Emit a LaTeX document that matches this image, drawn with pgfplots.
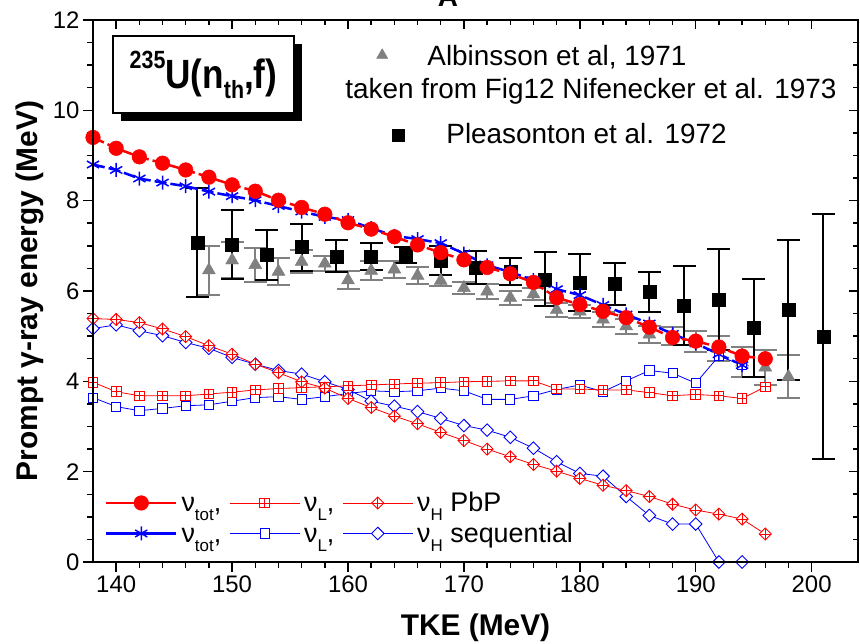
\documentclass[border=0pt]{standalone}
\usepackage{fontspec}
\setmainfont{Liberation Sans}
\usepackage{graphicx}
\usepackage{pgfplots}
\usepackage{pgfplotstable}
\pgfplotsset{compat=1.18}
\usetikzlibrary{plotmarks,shadows}
\definecolor{mygray}{RGB}{128,128,128}
\definecolor{myred}{RGB}{255,0,0}
\definecolor{myblue}{RGB}{0,0,255}

\pgfdeclareplotmark{dplus}{%
 \pgfpathmoveto{\pgfqpoint{0pt}{\pgfplotmarksize}}%
 \pgfpathlineto{\pgfqpoint{\pgfplotmarksize}{0pt}}%
 \pgfpathlineto{\pgfqpoint{0pt}{-\pgfplotmarksize}}%
 \pgfpathlineto{\pgfqpoint{-\pgfplotmarksize}{0pt}}%
 \pgfpathclose
 \pgfusepathqfillstroke
 \pgfpathmoveto{\pgfqpoint{0pt}{\pgfplotmarksize}}%
 \pgfpathlineto{\pgfqpoint{0pt}{-\pgfplotmarksize}}%
 \pgfpathmoveto{\pgfqpoint{\pgfplotmarksize}{0pt}}%
 \pgfpathlineto{\pgfqpoint{-\pgfplotmarksize}{0pt}}%
 \pgfusepathqstroke}
\pgfdeclareplotmark{dopen}{%
 \pgfpathmoveto{\pgfqpoint{0pt}{\pgfplotmarksize}}%
 \pgfpathlineto{\pgfqpoint{\pgfplotmarksize}{0pt}}%
 \pgfpathlineto{\pgfqpoint{0pt}{-\pgfplotmarksize}}%
 \pgfpathlineto{\pgfqpoint{-\pgfplotmarksize}{0pt}}%
 \pgfpathclose
 \pgfusepathqfillstroke}
\pgfdeclareplotmark{sqplus}{%
 \pgfpathrectangle{\pgfqpoint{-\pgfplotmarksize}{-\pgfplotmarksize}}{\pgfqpoint{2\pgfplotmarksize}{2\pgfplotmarksize}}%
 \pgfusepathqfillstroke
 \pgfpathmoveto{\pgfqpoint{0pt}{\pgfplotmarksize}}%
 \pgfpathlineto{\pgfqpoint{0pt}{-\pgfplotmarksize}}%
 \pgfpathmoveto{\pgfqpoint{\pgfplotmarksize}{0pt}}%
 \pgfpathlineto{\pgfqpoint{-\pgfplotmarksize}{0pt}}%
 \pgfusepathqstroke}

\pgfplotsset{
 redtot/.style={color=myred, line width=2.5bp, dash pattern=on 12bp off 4bp, mark=*, mark size=7.3bp, mark options={solid, fill=myred, line width=0.5bp}},
 bluetot/.style={color=myblue, line width=2.5bp, dash pattern=on 12bp off 4bp, mark=asterisk, mark size=7bp, mark options={solid, line width=1.5bp}},
 redL/.style={color=myred, line width=0.8bp, mark=sqplus, mark size=4.8bp, mark options={solid, fill=white, line width=0.9bp}},
 redH/.style={color=myred, line width=0.8bp, mark=dplus, mark size=6bp, mark options={solid, fill=white, line width=0.9bp}},
 blueL/.style={color=myblue, line width=0.8bp, mark=square*, mark size=4.6bp, mark options={solid, fill=white, line width=0.9bp}},
 blueH/.style={color=myblue, line width=0.8bp, mark=dopen, mark size=6.3bp, mark options={solid, fill=white, line width=0.9bp}},
}

\newcommand\lstrut{\rule[-9bp]{0pt}{29bp}}
\newcommand\sub[1]{\raisebox{-9bp}{\fontsize{17}{17}\selectfont #1}}

\pgfplotstableread{
x y
138 9.40
140 9.16
142 8.97
144 8.83
146 8.68
148 8.52
150 8.35
152 8.21
154 8.01
156 7.85
158 7.70
160 7.51
162 7.37
164 7.20
166 7.02
168 6.85
170 6.69
172 6.52
174 6.38
176 6.19
178 5.85
180 5.70
182 5.55
184 5.41
186 5.20
188 4.97
190 4.89
192 4.76
194 4.56
196 4.50
}\redtot

\pgfplotstableread{
x y
138 8.80
140 8.68
142 8.49
144 8.40
146 8.32
148 8.20
150 8.10
152 8.01
154 7.88
156 7.76
158 7.64
160 7.57
162 7.39
164 7.22
166 7.15
168 7.06
170 6.83
172 6.57
174 6.42
176 6.24
178 6.04
180 5.91
182 5.69
184 5.48
186 5.28
188 5.05
190 4.84
192 4.60
194 4.36
}\bluetot

\pgfplotstableread{
x y
138 3.98
140 3.77
142 3.68
144 3.68
146 3.68
148 3.72
150 3.76
152 3.81
154 3.84
156 3.86
158 3.88
160 3.90
162 3.92
164 3.94
166 3.96
168 3.97
170 3.99
172 4.00
174 4.01
176 4.01
178 3.83
180 3.83
182 3.81
184 3.81
186 3.75
188 3.68
190 3.71
192 3.68
194 3.62
196 3.88
}\redL

\pgfplotstableread{
x y
138 5.39
140 5.37
142 5.30
144 5.16
146 4.99
148 4.79
150 4.60
152 4.38
154 4.19
156 3.99
158 3.85
160 3.62
162 3.42
164 3.23
166 3.06
168 2.87
170 2.69
172 2.50
174 2.33
176 2.16
178 2.01
180 1.85
182 1.70
184 1.58
186 1.45
188 1.28
190 1.15
192 1.06
194 0.95
196 0.62
}\redH

\pgfplotstableread{
x y
138 3.64
140 3.44
142 3.35
144 3.40
146 3.46
148 3.48
150 3.56
152 3.64
154 3.66
156 3.60
158 3.66
160 3.73
162 3.79
164 3.77
166 3.79
168 3.85
170 3.79
172 3.60
174 3.60
176 3.68
178 3.82
180 3.92
182 3.77
184 4.01
186 4.24
188 4.18
190 3.96
192 4.56
194 4.36
}\blueL

\pgfplotstableread{
x y
138 5.17
140 5.25
142 5.12
144 5.01
146 4.86
148 4.73
150 4.53
152 4.38
154 4.24
156 4.16
158 3.99
160 3.82
162 3.56
164 3.45
166 3.33
168 3.18
170 3.02
172 2.92
174 2.76
176 2.52
178 2.22
180 1.96
182 1.90
184 1.45
186 1.03
188 0.84
190 0.84
192 0.00
194 0.00
}\blueH

\pgfplotstableread{
x y e
148 6.46 0.54
150 6.68 0.40
152 6.58 0.38
154 6.43 0.30
156 6.65 0.25
158 6.61 0.17
160 6.24 0.20
162 6.45 0.21
164 6.48 0.19
166 6.34 0.19
168 6.23 0.13
170 6.07 0.14
172 5.99 0.16
174 5.85 0.16
176 5.93 0.13
178 5.58 0.16
180 5.55 0.14
182 5.37 0.16
184 5.22 0.17
186 5.04 0.19
188 5.01 0.20
190 4.88 0.24
192 4.72 0.28
194 4.42 0.33
196 4.31 0.39
198 4.10 0.48
}\albinsson

\pgfplotstableread{
x y e
147 7.07 1.20
150 7.03 0.76
153 6.80 0.56
156 6.97 0.52
159 6.77 0.36
162 6.76 0.30
165 6.80 0.18
168 6.67 0.32
171 6.52 0.37
174 6.43 0.30
177 6.26 0.60
180 6.19 0.64
183 6.16 0.47
186 5.98 0.44
189 5.68 0.88
192 5.81 1.12
195 5.18 1.08
198 5.58 1.55
201 4.99 2.71
}\pleasonton

\begin{document}
\begin{tikzpicture}
\begin{axis}[
  width=765bp, height=542bp, scale only axis,
  xmin=138, xmax=204, ymin=0, ymax=12,
  clip=false,
  xtick={140,150,...,200}, minor x tick num=4,
  ytick={0,2,...,12}, minor y tick num=3,
  xtick pos=left, ytick pos=left,
  tick align=outside,
  major tick length=10bp, minor tick length=6bp,
  tick style={line width=1.5bp, black},
  axis line style={line width=2bp},
  ticklabel style={font=\fontsize{24}{24}\selectfont},
  /pgf/number format/assume math mode=true,
  xlabel={TKE (MeV)}, ylabel={Prompt γ-ray energy (MeV)},
  label style={font=\bfseries\fontsize{30}{30}\selectfont},
  xlabel style={at={(axis description cs:0.5,-0.136)}, anchor=base},
  ylabel style={at={(axis description cs:-0.0732,0.5)}, anchor=base},
  legend columns=3,
  legend cell align=left,
  legend style={at={(0.0157,0.1292)}, anchor=north west, draw=none, fill=none,
    inner sep=0pt, outer sep=0pt, row sep=9bp, font=\fontsize{27}{27}\selectfont,
    cells={anchor=base west}, nodes={inner sep=0pt, outer sep=0pt},
    /tikz/every odd column/.append style={column sep=4bp},
    /tikz/every even column/.append style={column sep=8bp}},
  legend image code/.code={\draw[mark repeat=2, mark phase=2, #1, solid] plot coordinates {(0bp,9bp) (35bp,9bp) (70bp,9bp)};},
]
\addplot[forget plot, only marks, mark=triangle*, mark size=7.5bp, color=mygray,
  error bars/.cd, y dir=both, y explicit,
  error bar style={line width=2bp, mygray},
  error mark options={rotate=90, mark size=11.5bp, line width=2bp, mygray}]
  table[x=x, y=y, y error=e] {\albinsson};
\addplot[forget plot, only marks, mark=square*, mark size=6.5bp, color=black,
  error bars/.cd, y dir=both, y explicit,
  error bar style={line width=2bp, black},
  error mark options={rotate=90, mark size=11.5bp, line width=2bp, black}]
  table[x=x, y=y, y error=e] {\pleasonton};
\addplot[forget plot, blueL] table[x=x, y=y] {\blueL};
\addplot[forget plot, blueH] table[x=x, y=y] {\blueH};
\addplot[forget plot, redL] table[x=x, y=y] {\redL};
\addplot[forget plot, redH] table[x=x, y=y] {\redH};
\addplot[forget plot, bluetot] table[x=x, y=y] {\bluetot};
\addplot[forget plot, redtot] table[x=x, y=y] {\redtot};

\addlegendimage{redtot}\addlegendentry{\lstrut ν\sub{tot},}
\addlegendimage{redL}\addlegendentry{\lstrut ν\sub{L},}
\addlegendimage{redH}\addlegendentry{\lstrut ν\sub{H} PbP}
\addlegendimage{bluetot}\addlegendentry{\lstrut ν\sub{tot},}
\addlegendimage{blueL}\addlegendentry{\lstrut ν\sub{L},}
\addlegendimage{blueH}\addlegendentry{\lstrut ν\sub{H} sequential}
\end{axis}

\begin{axis}[
  width=765bp, height=542bp, scale only axis,
  xmin=138, xmax=204, ymin=0, ymax=12,
  xtick={140,150,...,200}, minor x tick num=4,
  ytick={0,2,...,12}, minor y tick num=3,
  xtick pos=right, ytick pos=right,
  tick align=inside,
  xticklabels={}, yticklabels={},
  major tick length=9bp, minor tick length=5bp,
  tick style={line width=1.5bp, black},
  axis line style={line width=2bp},
  legend cell align=left,
  legend style={at={(0.3621,0.9539)}, anchor=north west, draw=none, fill=none,
    inner sep=0pt, outer sep=0pt, row sep=12bp, font=\fontsize{28}{28}\selectfont,
    cells={anchor=base west}, nodes={inner sep=0pt, outer sep=0pt},
    /tikz/every odd column/.append style={column sep=17bp}},
]
\addlegendimage{legend image code/.code={\path (0bp,0bp) (40bp,0bp); \draw[only marks, mark=triangle*, mark size=6.5bp, mygray] plot coordinates {(12bp,10bp)};}}
\addlegendentry{\rule[-6bp]{0pt}{26bp}Albinsson et al, 1971}
\addlegendimage{legend image code/.code={\path (0bp,0bp) (40bp,0bp);}}
\addlegendentry{\rule[-6bp]{0pt}{26bp}\hspace*{-82bp}taken from Fig12 Nifenecker et al. 1973}
\addlegendimage{legend image code/.code={\path (0bp,0bp) (40bp,0bp); \draw[only marks, mark=square*, mark size=6bp, black] plot coordinates {(28bp,8bp)};}}
\addlegendentry{\rule[-6bp]{0pt}{37bp}\hspace*{19bp}Pleasonton et al. 1972}
\end{axis}

\node[anchor=base, font=\bfseries\fontsize{28}{28}\selectfont] at (355bp,555bp) {A};
\node[draw=black, line width=1.5bp, fill=white, minimum width=181bp, minimum height=77bp, inner sep=0pt,
  drop shadow={shadow xshift=8bp, shadow yshift=-8bp, opacity=1, fill=black}]
  at (110.5bp,487.5bp)
  {\bfseries\scalebox{0.86}[1]{\raisebox{20bp}{\fontsize{25}{25}\selectfont 235}\fontsize{41}{41}\selectfont U(n\raisebox{-10bp}{\fontsize{25}{25}\selectfont th},f)}};
\pgfresetboundingbox
\useasboundingbox (-93bp,-82bp) rectangle (767bp,562bp);
\end{tikzpicture}
\end{document}
